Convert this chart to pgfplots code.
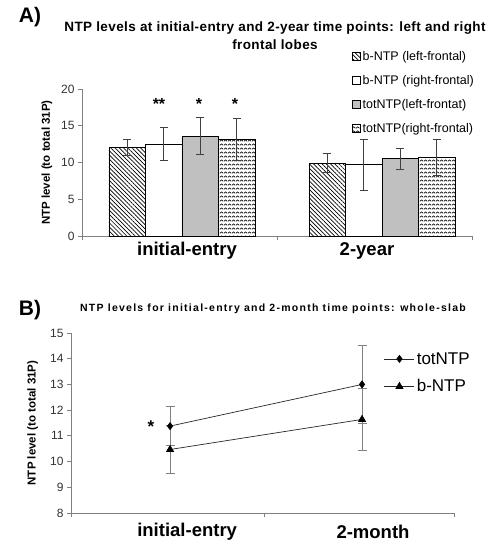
\documentclass[border=0pt]{standalone}
\usepackage{fontspec}
\setmainfont{Liberation Sans}
\usepackage{pgfplots}
\pgfplotsset{compat=1.18}
\usetikzlibrary{patterns,patterns.meta}

\definecolor{axgray}{HTML}{808080}
\definecolor{barfill}{HTML}{C0C0C0}
\definecolor{errgray}{HTML}{404040}
\definecolor{ticktext}{HTML}{333333}

% wavy fill for totNTP (right-frontal)
\pgfdeclarepatternformonly{wavy}{\pgfpointorigin}{\pgfpoint{4pt}{3.5pt}}{\pgfpoint{4pt}{3.5pt}}{%
  \pgfsetlinewidth{0.7pt}%
  \pgfpathmoveto{\pgfpoint{0pt}{0.8pt}}%
  \pgfpathcurveto{\pgfpoint{1pt}{0.8pt}}{\pgfpoint{1pt}{2.4pt}}{\pgfpoint{2pt}{2.4pt}}%
  \pgfpathcurveto{\pgfpoint{3pt}{2.4pt}}{\pgfpoint{3pt}{0.8pt}}{\pgfpoint{4pt}{0.8pt}}%
  \pgfusepath{stroke}%
}

\pgfplotsset{
  panel/.style={
    scale only axis,
    axis x line*=bottom, axis y line*=left,
    axis line style={-, draw=axgray, line width=0.8pt},
    xtick pos=lower, ytick pos=lower,
    tick align=outside, major tick length=4pt,
    every tick/.style={axgray, line width=0.8pt},
    xticklabels={},
    yticklabel style={font=\fontsize{12}{12}\selectfont, text=ticktext},
    /pgf/number format/assume math mode=true,
    extra x tick style={major tick length=0pt,
      tick label style={font=\fontsize{18.5}{19}\selectfont\bfseries, anchor=center}},
    ylabel style={font=\fontsize{11.5}{12}\selectfont\bfseries},
  },
}

\begin{document}
\begin{tikzpicture}
\path[use as bounding box] (0,0) rectangle (488pt,-542pt);

% ---------- A ----------
\node[font=\fontsize{21}{21}\selectfont\bfseries] at (30pt,-17pt) {A)};
\node[font=\fontsize{13.5}{18}\selectfont\bfseries\addfontfeatures{LetterSpace=3}, align=center] at (275pt,-36pt)
  {NTP levels at initial-entry and 2-year time points: left and right\\frontal lobes};

\begin{axis}[
  panel,
  at={(82pt,-236pt)}, anchor=south west,
  width=390pt, height=147pt,
  ymin=0, ymax=20, ytick={0,5,10,15,20},
  xmin=-0.5, xmax=1.45,
  xtick={-0.5,0.475,1.45},
  extra x ticks={0.025,0.925},
  extra x tick labels={initial-entry,2-year},
  extra x tick style={tick label style={yshift=-15pt}},
  ylabel={NTP level (to total 31P)},
  ylabel style={at={(axis description cs:-0.09,0.5)}, anchor=center},
  ybar=0pt, bar width=36.5pt,
  legend style={at={(axis description cs:0.692,1.27)}, anchor=north west,
    draw=none, fill=none, font=\fontsize{12.5}{13}\selectfont,
    row sep=9.5pt, inner sep=0pt, cells={anchor=west}},
  legend image code/.code={\draw[#1, line width=0.6pt] (0pt,-3.5pt) rectangle (8pt,4.5pt);},
  every axis plot/.append style={draw=black, line width=0.8pt,
    error bars/y dir=both, error bars/y explicit,
    error bars/error bar style={errgray, line width=0.8pt},
    error bars/error mark options={errgray, line width=0.8pt, mark size=4pt, rotate=90}},
]
\addplot[pattern={Lines[angle=-45, distance=3pt, line width=0.7pt]}]
  coordinates {(0,12.0) +- (0,1.1) (1,9.9) +- (0,1.3)};
\addplot[fill=white]
  coordinates {(0,12.5) +- (0,2.25) (1,9.7) +- (0,3.45)};
\addplot[fill=barfill]
  coordinates {(0,13.6) +- (0,2.55) (1,10.5) +- (0,1.45)};
\addplot[pattern=wavy]
  coordinates {(0,13.1) +- (0,2.85) (1,10.7) +- (0,2.4)};
\legend{b-NTP (left-frontal),b-NTP (right-frontal),totNTP(left-frontat),totNTP(right-frontal)}
\node[font=\fontsize{16}{16}\selectfont\bfseries] at (axis cs:-0.115,18.0) {**};
\node[font=\fontsize{16}{16}\selectfont\bfseries] at (axis cs:0.085,18.0) {*};
\node[font=\fontsize{16}{16}\selectfont\bfseries] at (axis cs:0.265,18.0) {*};
\end{axis}

% ---------- B ----------
\node[font=\fontsize{21}{21}\selectfont\bfseries] at (30pt,-310pt) {B)};
\node[font=\fontsize{10.5}{11}\selectfont\bfseries\addfontfeatures{LetterSpace=12}] at (273pt,-309pt)
  {NTP levels for initial-entry and 2-month time points: whole-slab};

\begin{axis}[
  panel,
  at={(71pt,-513pt)}, anchor=south west,
  width=383pt, height=180pt,
  ymin=8, ymax=15, ytick={8,...,15},
  xmin=-0.516, xmax=1.479,
  xtick={-0.516,0.49,1.479},
  extra x ticks={0.089,1.057},
  extra x tick labels={initial-entry,2-month},
  extra x tick style={tick label style={yshift=-18.5pt}},
  ylabel={NTP level (to total 31P)},
  ylabel style={at={(axis description cs:-0.1,0.5)}, anchor=center},
  legend style={at={(axis description cs:0.817,0.905)}, anchor=north west,
    draw=none, fill=none, font=\fontsize{17}{17}\selectfont,
    row sep=10pt, inner sep=0pt, cells={anchor=west}},
  legend image code/.code={\draw[#1, mark repeat=2, mark phase=2]
    plot coordinates {(0pt,0pt) (15pt,0pt) (30pt,0pt)};},
  every axis plot/.append style={draw=black!85, line width=0.7pt,
    error bars/y dir=both, error bars/y explicit,
    error bars/error bar style={axgray, line width=0.9pt},
    error bars/error mark options={axgray, line width=0.9pt, mark size=4.5pt, rotate=90}},
]
\addplot[mark=diamond*, mark size=3.5pt, mark options={fill=black, draw=black}]
  coordinates {(0,11.38) +- (0,0.77) (1,13.0) +- (0,1.53)};
\addplot[mark=triangle*, mark size=4pt, mark options={fill=black, draw=black}]
  coordinates {(0,10.47) +- (0,0.95) (1,11.64) +- (0,1.19)};
\legend{totNTP,b-NTP}
\node[font=\fontsize{17}{17}\selectfont\bfseries] at (axis cs:-0.1,11.35) {*};
\end{axis}
\end{tikzpicture}
\end{document}
